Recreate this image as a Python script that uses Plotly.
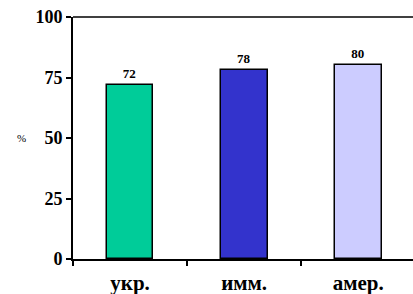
import plotly.graph_objects as go

categories = ["укр.", "имм.", "амер."]
values = [72, 78, 80]
colors = ["#00CC99", "#3333CC", "#CCCCFF"]
y_ticks = [0, 25, 50, 75, 100]

serif = "Liberation Serif"

fig = go.Figure()
fig.add_trace(go.Bar(
    x=categories, y=values,
    marker=dict(color=colors, line=dict(color="black", width=1.5)),
    width=0.41,
    text=[str(v) for v in values],
    textposition="outside",
    textfont=dict(family=serif, size=13, color="black", weight="bold"),
    cliponaxis=False,
))

fig.update_layout(
    width=413, height=294,
    margin=dict(l=73, r=0, t=17, b=35),
    plot_bgcolor="white", paper_bgcolor="white",
    showlegend=False,
    bargap=0,
    font=dict(family=serif, color="black"),
    xaxis=dict(
        range=[-0.5, 2.48],
        showline=True, linecolor="black", linewidth=2,
        ticks="outside", tickson="boundaries", ticklen=5, tickwidth=2, tickcolor="black",
        tickfont=dict(family=serif, size=21, color="black", weight="bold"),
        ticklabelstandoff=4,
        showgrid=False, zeroline=False,
    ),
    yaxis=dict(
        range=[0, 100],
        tickvals=y_ticks,
        showline=True, linecolor="black", linewidth=2,
        ticks="outside", ticklen=5, tickwidth=2, tickcolor="black",
        tickfont=dict(family=serif, size=18, color="black", weight="bold"),
        showgrid=False, zeroline=False,
    ),
    shapes=[dict(type="line", xref="paper", yref="paper", x0=0, x1=1, y0=1, y1=1,
                 line=dict(color="black", width=1.5))],
    annotations=[dict(text="%", xref="paper", yref="paper", x=-0.17, y=0.5,
                      showarrow=False, font=dict(family=serif, size=11, color="black"))],
)

fig.write_html("out.html", config={"displayModeBar": False},
               post_script="document.body.style.margin='0';")
